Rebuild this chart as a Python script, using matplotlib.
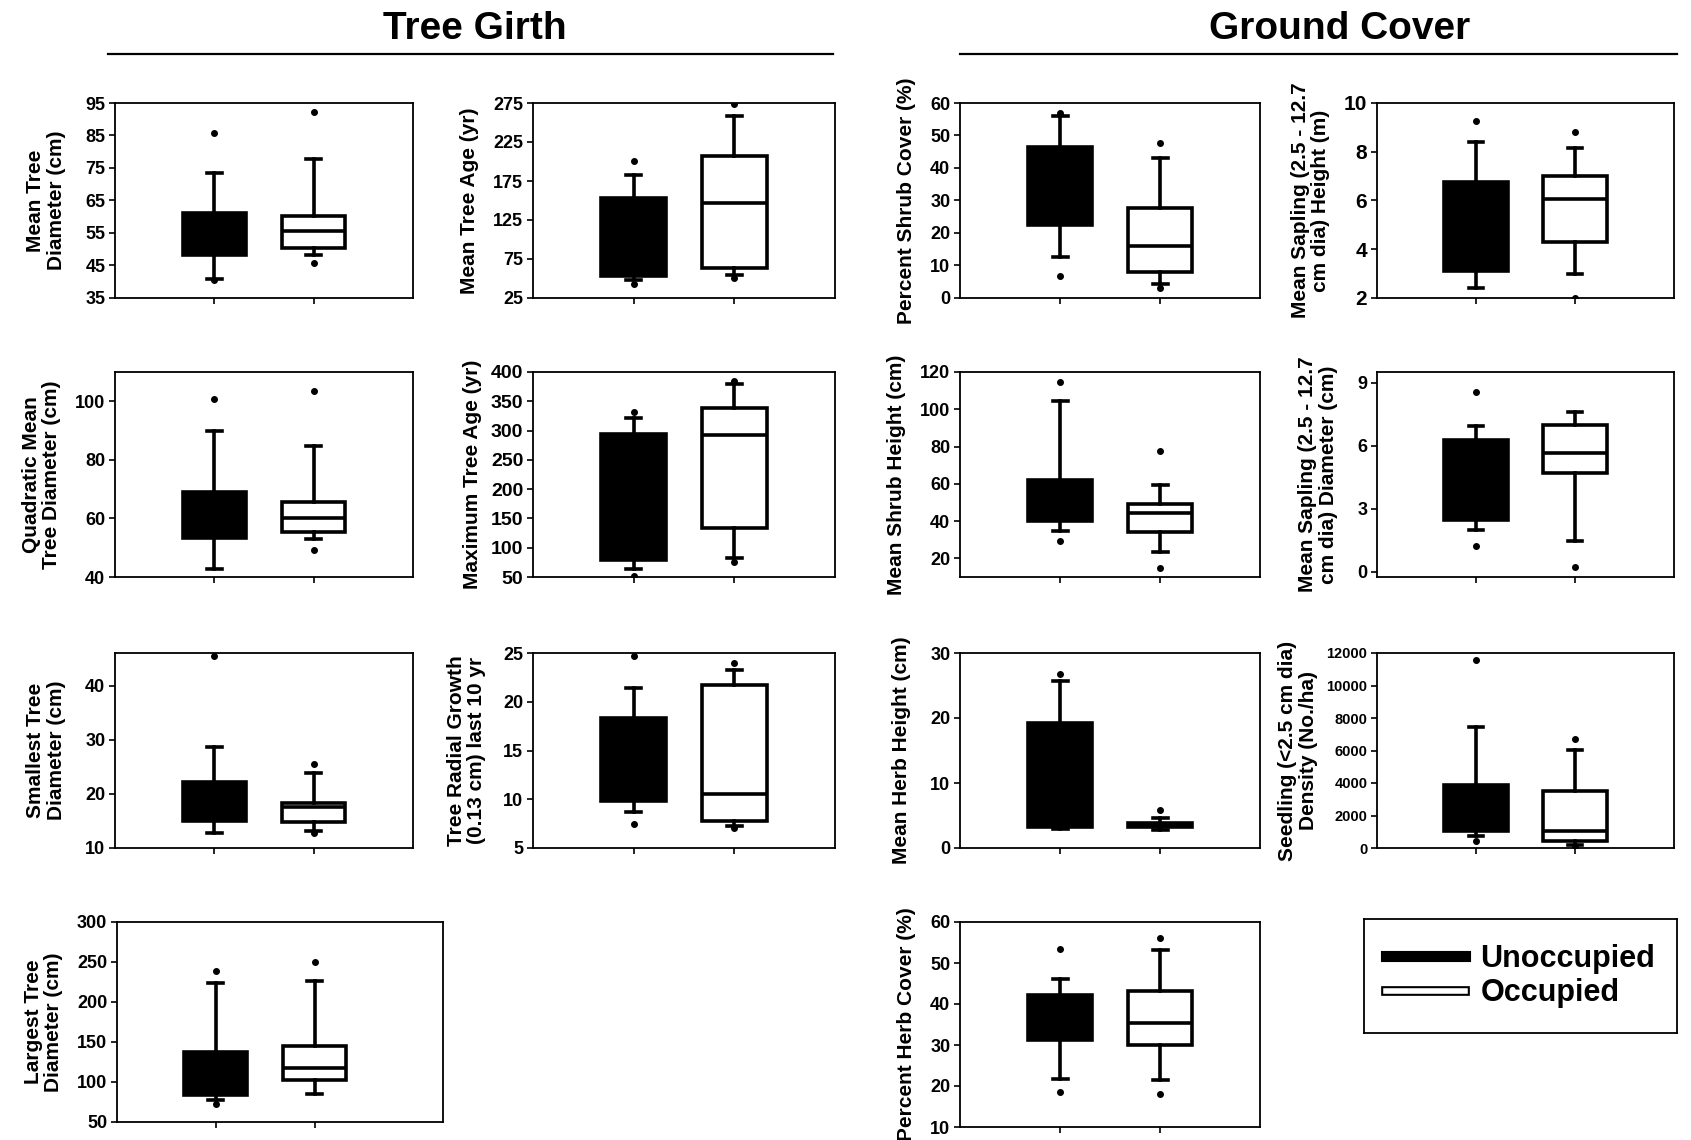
import matplotlib
matplotlib.use('Agg')
from matplotlib import pyplot as plt
from matplotlib.lines import Line2D
import matplotlib.patheffects as pe

plt.rcParams['font.family'] = ['Liberation Sans', 'DejaVu Sans']
plt.rcParams['font.weight'] = 'bold'

groups = ['Unoccupied', 'Occupied']

# [whislo, q1, median, q3, whishi] and outlier dots, per panel
mean_diam_u = [40.9, 48.3, 55.0, 61.1, 73.5]
mean_diam_u_out = [85.8, 40.5]
mean_diam_o = [48.1, 50.3, 55.6, 60.2, 77.9]
mean_diam_o_out = [92.1, 45.9]

mean_age_u = [48.7, 53.2, 100.0, 152.8, 182.7]
mean_age_u_out = [200.0, 43.0]
mean_age_o = [55.0, 63.6, 146.3, 206.5, 258.5]
mean_age_o_out = [274.0, 51.0]

shrub_cov_u = [12.7, 22.5, 35.0, 46.4, 55.9]
shrub_cov_u_out = [57.0, 6.9]
shrub_cov_o = [4.3, 7.9, 16.0, 27.8, 43.0]
shrub_cov_o_out = [47.7, 3.2]

sap_hgt_u = [2.43, 3.12, 5.0, 6.75, 8.38]
sap_hgt_u_out = [9.27]
sap_hgt_o = [2.98, 4.28, 6.06, 7.02, 8.16]
sap_hgt_o_out = [8.8, 2.0]

quad_diam_u = [42.8, 53.2, 60.0, 69.0, 89.9]
quad_diam_u_out = [100.8]
quad_diam_o = [53.0, 55.5, 60.0, 65.7, 84.9]
quad_diam_o_out = [103.4, 49.2]

max_age_u = [64.2, 78.4, 200.0, 294.7, 320.7]
max_age_u_out = [332.0, 51.0]
max_age_o = [83.0, 133.3, 292.4, 337.7, 379.6]
max_age_o_out = [384.0, 75.5]

shrub_hgt_u = [34.8, 40.2, 50.0, 62.0, 104.5]
shrub_hgt_u_out = [114.8, 29.5]
shrub_hgt_o = [23.6, 33.9, 44.3, 49.1, 59.3]
shrub_hgt_o_out = [77.5, 14.6]

sap_diam_u = [1.97, 2.48, 4.5, 6.28, 6.95]
sap_diam_u_out = [8.57, 1.21]
sap_diam_o = [1.46, 4.69, 5.65, 7.0, 7.61]
sap_diam_o_out = [0.24]

small_diam_u = [12.8, 15.0, 18.0, 22.2, 28.7]
small_diam_u_out = [45.5]
small_diam_o = [13.1, 14.8, 17.5, 18.3, 23.8]
small_diam_o_out = [25.5, 12.7]

radial_u = [8.7, 9.8, 14.0, 18.36, 21.46]
radial_u_out = [24.66, 7.5]
radial_o = [7.3, 7.73, 10.55, 21.7, 23.3]
radial_o_out = [24.0, 7.1]

herb_hgt_u = [2.9, 3.3, 10.0, 19.2, 25.7]
herb_hgt_u_out = [26.7]
herb_hgt_o = [2.8, 3.2, 3.6, 3.9, 4.6]
herb_hgt_o_out = [5.8]

seedling_u = [710, 1054, 2500, 3892, 7459]
seedling_u_out = [11554, 405]
seedling_o = [200, 405, 1054, 3507, 6020]
seedling_o_out = [6689, 100]

large_diam_u = [77, 84, 110, 138, 224]
large_diam_u_out = [239, 73]
large_diam_o = [85, 103, 118, 145, 226]
large_diam_o_out = [250]

herb_cov_u = [21.6, 31.1, 36.0, 42.2, 46.2]
herb_cov_u_out = [53.5, 18.6]
herb_cov_o = [21.4, 30.0, 35.4, 43.2, 53.2]
herb_cov_o_out = [56.0, 18.0]

W, H = 1691, 1140
fig = plt.figure(figsize=(W / 100, H / 100), dpi=100)


def make_axes(left, top, right, bottom):
    return fig.add_axes([left / W, 1 - bottom / H, (right - left) / W, (bottom - top) / H])


def stats(v, out):
    return dict(whislo=v[0], q1=v[1], med=v[2], q3=v[3], whishi=v[4], fliers=out)


def panel(ax, u, u_out, o, o_out, ylabel, ylim, yticks, tick_fs=13, xmax=3, pad=10):
    lw = 2.6
    for pos, v, out, fill in [(1, u, u_out, 'black'), (2, o, o_out, 'white')]:
        ax.bxp([stats(v, out)], positions=[pos], widths=0.64, patch_artist=True,
               boxprops=dict(facecolor=fill, edgecolor='black', linewidth=lw),
               medianprops=dict(color='black', linewidth=lw),
               whiskerprops=dict(color='black', linewidth=lw),
               capprops=dict(color='black', linewidth=lw), capwidths=0.15,
               flierprops=dict(marker='o', markersize=4, markerfacecolor='black',
                               markeredgecolor='black', linestyle='none'))
    ax.set_xlim(0, xmax)
    ax.set_ylim(*ylim)
    ax.set_yticks(yticks)
    ax.set_xticks([1, 2])
    ax.set_xticklabels(['', ''])
    ax.tick_params(axis='x', direction='out', length=4, width=1.2)
    ax.tick_params(axis='y', direction='out', length=4, width=1.2, labelsize=tick_fs, pad=3)
    for t in ax.get_yticklabels():
        t.set_fontweight('bold')
    for s in ax.spines.values():
        s.set_linewidth(1.3)
    ax.set_ylabel(ylabel, fontsize=15, fontweight='bold', linespacing=1.1, labelpad=pad)


c1, c2, c3, c4 = (115, 413), (533, 835), (960, 1260), (1377, 1674)
r1, r2, r3, r4 = (103, 298), (372, 577), (653, 848), (922, 1122)

ax = make_axes(c1[0], r1[0], c1[1], r1[1])
panel(ax, mean_diam_u, mean_diam_u_out, mean_diam_o, mean_diam_o_out,
      'Mean Tree\nDiameter (cm)', (35, 95), range(35, 96, 10), pad=14)
ax = make_axes(c2[0], r1[0], c2[1], r1[1])
panel(ax, mean_age_u, mean_age_u_out, mean_age_o, mean_age_o_out,
      'Mean Tree Age (yr)', (25, 275), range(25, 276, 50))
ax = make_axes(c3[0], r1[0], c3[1], r1[1])
panel(ax, shrub_cov_u, shrub_cov_u_out, shrub_cov_o, shrub_cov_o_out,
      'Percent Shrub Cover (%)', (0, 60), range(0, 61, 10))
ax = make_axes(c4[0], r1[0], c4[1], r1[1])
panel(ax, sap_hgt_u, sap_hgt_u_out, sap_hgt_o, sap_hgt_o_out,
      'Mean Sapling (2.5 - 12.7\ncm dia) Height (m)', (2, 10), range(2, 11, 2), tick_fs=15)

ax = make_axes(c1[0], r2[0], c1[1], r2[1])
panel(ax, quad_diam_u, quad_diam_u_out, quad_diam_o, quad_diam_o_out,
      'Quadratic Mean\nTree Diameter (cm)', (40, 110), range(40, 101, 20))
ax = make_axes(c2[0], r2[0], c2[1], r2[1])
panel(ax, max_age_u, max_age_u_out, max_age_o, max_age_o_out,
      'Maximum Tree Age (yr)', (50, 400), range(50, 401, 50), tick_fs=14, pad=6)
ax = make_axes(c3[0], r2[0], c3[1], r2[1])
panel(ax, shrub_hgt_u, shrub_hgt_u_out, shrub_hgt_o, shrub_hgt_o_out,
      'Mean Shrub Height (cm)', (10, 120), range(20, 121, 20))
ax = make_axes(c4[0], r2[0], c4[1], r2[1])
panel(ax, sap_diam_u, sap_diam_u_out, sap_diam_o, sap_diam_o_out,
      'Mean Sapling (2.5 - 12.7\ncm dia) Diameter (cm)', (-0.25, 9.5), range(0, 10, 3), pad=14)

ax = make_axes(c1[0], r3[0], c1[1], r3[1])
panel(ax, small_diam_u, small_diam_u_out, small_diam_o, small_diam_o_out,
      'Smallest Tree\nDiameter (cm)', (10, 46), range(10, 41, 10), pad=14)
ax = make_axes(c2[0], r3[0], c2[1], r3[1])
panel(ax, radial_u, radial_u_out, radial_o, radial_o_out,
      'Tree Radial Growth\n(0.13 cm) last 10 yr', (5, 25), range(5, 26, 5), pad=12)
ax = make_axes(c3[0], r3[0], c3[1], r3[1])
panel(ax, herb_hgt_u, herb_hgt_u_out, herb_hgt_o, herb_hgt_o_out,
      'Mean Herb Height (cm)', (0, 30), range(0, 31, 10), pad=14)
ax = make_axes(c4[0], r3[0], c4[1], r3[1])
panel(ax, seedling_u, seedling_u_out, seedling_o, seedling_o_out,
      'Seedling (<2.5 cm dia)\nDensity (No./ha)', (0, 12000), range(0, 12001, 2000), tick_fs=10.5, pad=6)

ax = make_axes(117, r4[0], 443, r4[1])
panel(ax, large_diam_u, large_diam_u_out, large_diam_o, large_diam_o_out,
      'Largest Tree\nDiameter (cm)', (50, 300), range(50, 301, 50), xmax=3.3)
ax = make_axes(c3[0], r4[0], c3[1], 1127)
panel(ax, herb_cov_u, herb_cov_u_out, herb_cov_o, herb_cov_o_out,
      'Percent Herb Cover (%)', (10, 60), range(10, 61, 10))

# section headings with rules
fig.text(475 / W, 1 - 29 / H, 'Tree Girth', ha='center', va='center', fontsize=28, fontweight='bold')
fig.text(1340 / W, 1 - 29 / H, 'Ground Cover', ha='center', va='center', fontsize=28, fontweight='bold')
fig.add_artist(Line2D([108 / W, 833 / W], [1 - 54 / H, 1 - 54 / H], color='black', lw=1.6))
fig.add_artist(Line2D([960 / W, 1677 / W], [1 - 54 / H, 1 - 54 / H], color='black', lw=1.6))

# legend in its own framed box
lax = make_axes(1364, 919, 1677, 1033)
lax.set_xticks([])
lax.set_yticks([])
for s in lax.spines.values():
    s.set_linewidth(1.3)
handles = [Line2D([], [], color='black', lw=8),
           Line2D([], [], color='white', lw=4,
                  path_effects=[pe.Stroke(linewidth=7, foreground='black'), pe.Normal()])]
lax.legend(handles, groups, loc='center', frameon=False, handlelength=2.6,
           handletextpad=0.5, prop=dict(size=22, weight='bold'), labelspacing=0.15)

plt.savefig('out.png', dpi=100)
